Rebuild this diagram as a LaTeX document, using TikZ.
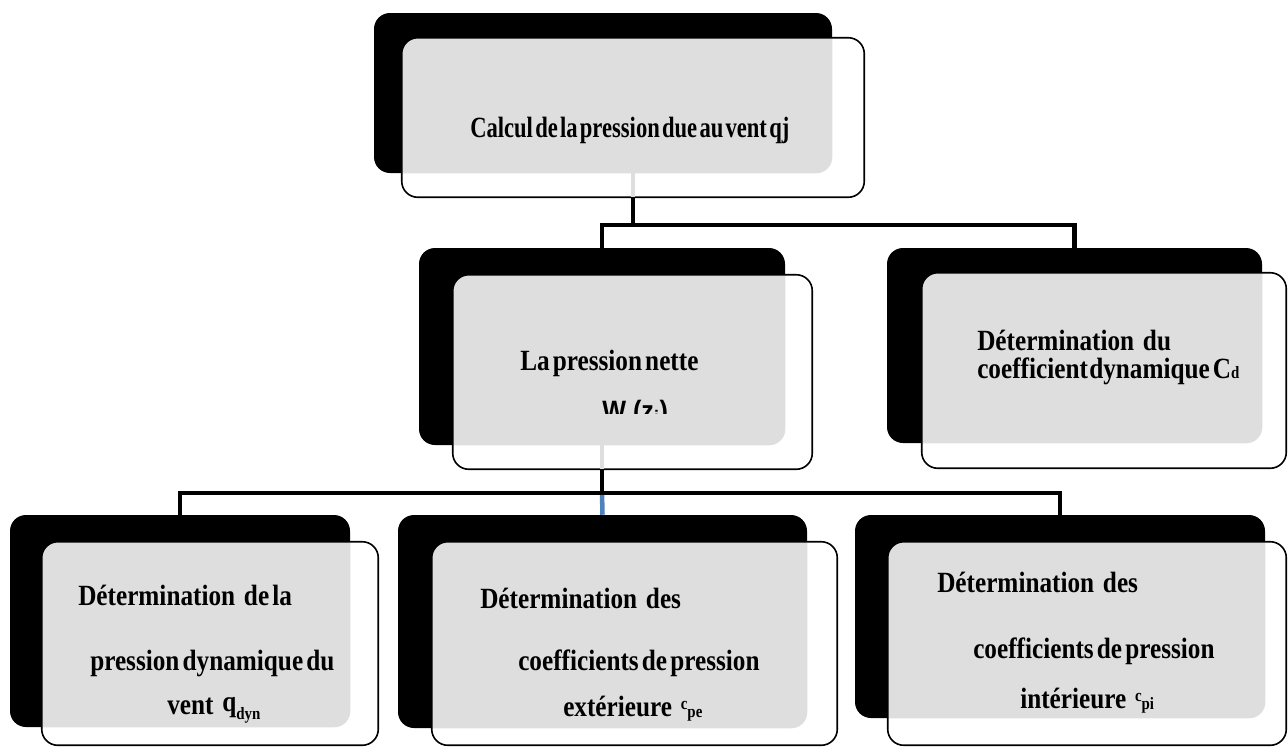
\documentclass[tikz,border=0pt]{standalone}
\usepackage{fontspec}
\setmainfont{Liberation Serif}[FakeStretch=0.86, WordSpace=0.5]
\newfontfamily\tightserif{Liberation Serif}[FakeStretch=0.77, WordSpace=0.4]
\newfontfamily\sansbold{Liberation Sans}[FakeStretch=0.9]
\usetikzlibrary{fit}

\definecolor{linkblue}{RGB}{79,129,189}
\newcommand\smalltxt[1]{{\fontsize{13}{13}\selectfont #1}}
\newcommand\wide{\hspace{0.3em}}

\begin{document}
\begin{tikzpicture}[
      x = 0.75pt, y = -0.75pt,
      backbox/.style = {fill = black, rounded corners = 12pt, inner sep = 0pt},
      frontbox/.style = {fill = white, rounded corners = 12pt, inner sep = 0pt},
      edge/.style = {draw = black, line width = 1.2pt, rounded corners = 12pt},
      dots/.style = {fill = black!13},
      link/.style = {line width = 3.4pt, black},
      txt/.style = {anchor = base west, inner sep = 0pt,
        font = \bfseries\fontsize{22}{24}\selectfont}
      ]
    \useasboundingbox (0,0) rectangle (1288,747);
    \coordinate (lvl1) at (0,225);
    \coordinate (lvl2) at (0,493);
    % back boxes
    \node[backbox, fit = {(374,13) (832,173)}] (backtop) {};
    \node[backbox, fit = {(419,248) (785,445)}] (backnet) {};
    \node[backbox, fit = {(887,248) (1262,443)}] (backcd) {};
    \node[backbox, fit = {(10,515) (350,727)}] (backdyn) {};
    \node[backbox, fit = {(398,515) (807,728)}] (backcpe) {};
    \node[backbox, fit = {(855,515) (1265,718)}] (backcpi) {};
    % connectors
    \draw[link] (backnet.north) |- (lvl1 -| backcd.north) -- (backcd.north);
    \draw[line width = 3.4pt, linkblue] (backnet.south |- lvl2) -- (backcpe.north);
    \draw[link] (backdyn.north) |- (lvl2 -| backcpi.north) -- (backcpi.north);
    % front boxes
    \node[frontbox, fit = {(402,38) (864,197)}] (fronttop) {};
    \node[frontbox, fit = {(453,275) (812,469)}] (frontnet) {};
    \node[frontbox, fit = {(922,273) (1286,468)}] (frontcd) {};
    \node[frontbox, fit = {(42,542) (378,745)}] (frontdyn) {};
    \node[frontbox, fit = {(432,542) (837,745)}] (frontcpe) {};
    \node[frontbox, fit = {(888,542) (1286,745)}] (frontcpi) {};
    \foreach \b in {top,net,cd,dyn,cpe,cpi} {
      \begin{scope}
        \clip[rounded corners = 12pt] (back\b.south west) rectangle (back\b.north east);
        \fill[dots, rounded corners = 12pt] (front\b.south west) rectangle (front\b.north east);
      \end{scope}
      \draw[edge] (front\b.south west) rectangle (front\b.north east);
    }
    % strips below the shadows
    \draw[line width = 3.4pt, black!13] (backtop.south -| fronttop.south) -- (fronttop.south);
    \draw[line width = 3.4pt, black!13] (backnet.south) -- (backnet.south |- frontnet.south);
    \draw[link] (fronttop.south) -- (fronttop.south |- lvl1);
    \draw[link] (backnet.south |- frontnet.south) -- (backnet.south |- lvl2);
    \draw[link] (backdyn.north |- lvl2) -- (backcpi.north |- lvl2);
    % texts
    \node[txt, font = \bfseries\tightserif\fontsize{22}{24}\selectfont] (t-top) at (470,137)
      {Calcul de la pression due au vent qj};
    \node[txt] (t-net1) at (520,370) {La pression nette};
    \begin{scope}
      \clip (590,380) rectangle (700,413);
      \node[txt, font = \sansbold\bfseries\fontsize{21}{23}\selectfont] (t-net2) at (602,420)
        {W (z\textsubscript{j})};
    \end{scope}
    \node[txt] (t-cd1) at (977,350) {Détermination\wide du};
    \node[txt] (t-cd2) at (977,378) {coefficient\kern1pt dynamique C\smalltxt{d}};
    \node[txt] (t-dyn1) at (78,605) {Détermination\wide de la};
    \node[txt] (t-dyn2) at (90,670) {pression dynamique du};
    \node[txt] (t-dyn3) at (167,714)
      {vent\wide\raisebox{2pt}{q}\raisebox{-4pt}{\smalltxt{dyn}}};
    \node[txt] (t-cpe1) at (480,608) {Détermination\wide des};
    \node[txt] (t-cpe2) at (518,670) {coefficients de pression};
    \node[txt] (t-cpe3) at (563,716)
      {extérieure\wide\raisebox{5pt}{\smalltxt{c}}\raisebox{-1pt}{\smalltxt{pe}}};
    \node[txt] (t-cpi1) at (937,592) {Détermination\wide des};
    \node[txt] (t-cpi2) at (973,658) {coefficients de pression};
    \node[txt] (t-cpi3) at (1020,708)
      {intérieure\wide\raisebox{5pt}{\smalltxt{c}}\raisebox{-1pt}{\smalltxt{pi}}};
  \end{tikzpicture}
\end{document}
